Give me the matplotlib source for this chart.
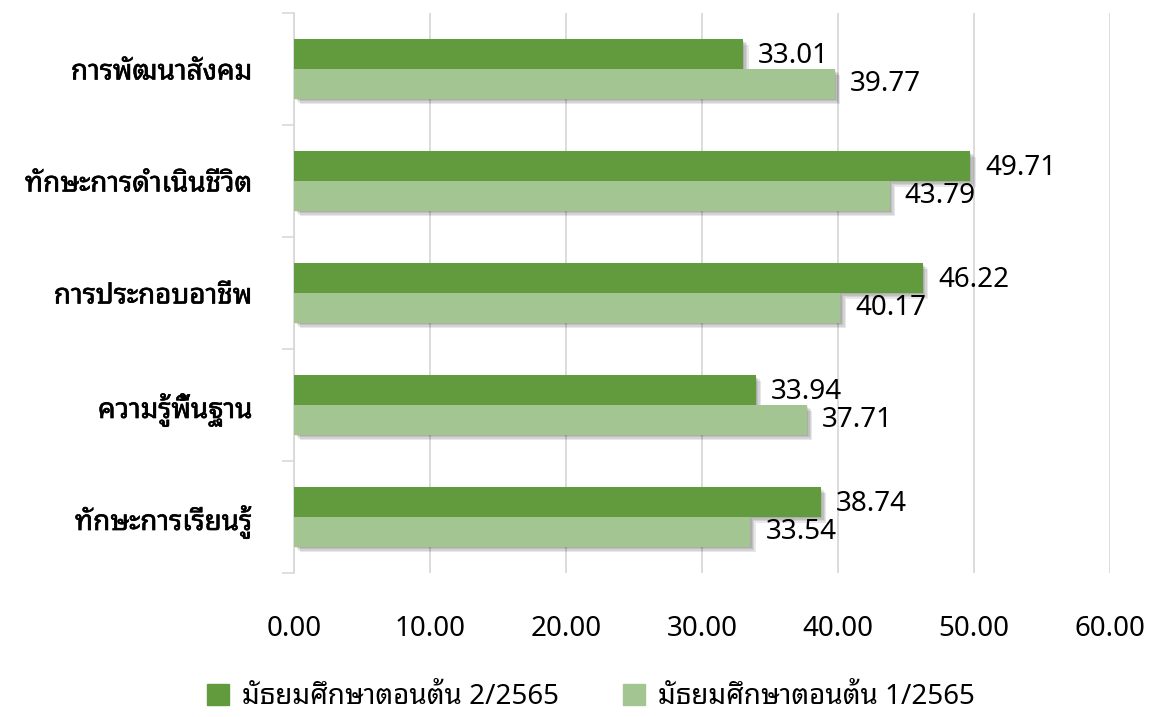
import numpy as np
import matplotlib
matplotlib.use('Agg')
import matplotlib.pyplot as pl
import matplotlib.patheffects as pe
from matplotlib.patches import Patch

pl.rcParams['font.family'] = ['Noto Sans Thai Looped', 'DejaVu Sans']

categories = ['การพัฒนาสังคม', 'ทักษะการดำเนินชีวิต', 'การประกอบอาชีพ',
              'ความรู้พื้นฐาน', 'ทักษะการเรียนรู้']
term2 = [33.01, 49.71, 46.22, 33.94, 38.74]
term1 = [39.77, 43.79, 40.17, 37.71, 33.54]
series_names = ['มัธยมศึกษาตอนต้น 2/2565', 'มัธยมศึกษาตอนต้น 1/2565']
xticks = [0, 10, 20, 30, 40, 50, 60]

c_dark = '#629b3e'
c_light = '#a3c592'
c_grid = '#d9d9d9'

fig = pl.figure(figsize=(11.54, 7.17), dpi=100)
ax = fig.add_axes([0.2548, 0.2008, 0.7071, 0.7811])

y = np.arange(len(categories))
h = 0.265
# soft drop shadow: a few stacked faint offsets
shadow = [pe.SimplePatchShadow(offset=(o, -o), shadow_rgbFace='k', alpha=0.09)
          for o in (1.0, 2.0, 3.0, 4.0)] + [pe.Normal()]

b1 = ax.barh(y - h / 2, term2, height=h, color=c_dark, zorder=3)
b2 = ax.barh(y + h / 2, term1, height=h, color=c_light, zorder=3)
for b in list(b1) + list(b2):
    b.set_path_effects(shadow)

for yi, v in zip(y - h / 2, term2):
    ax.annotate(f'{v:.2f}', (v, yi), xytext=(11, -1), textcoords='offset points',
                va='center', ha='left', fontsize=20, zorder=5)
for yi, v in zip(y + h / 2, term1):
    ax.annotate(f'{v:.2f}', (v, yi), xytext=(11, 0), textcoords='offset points',
                va='center', ha='left', fontsize=20, zorder=5)

ax.set_xlim(0, 60)
ax.set_ylim(len(categories) - 0.5, -0.5)
ax.set_xticks(xticks)
ax.set_xticklabels([f'{t:.2f}' for t in xticks], fontsize=20)
ax.set_yticks(y)
ax.set_yticklabels(categories, fontsize=20)
for t in ax.get_yticklabels():
    t.set_path_effects([pe.withStroke(linewidth=0.45, foreground='k')])
ax.set_yticks(np.arange(len(categories) + 1) - 0.5, minor=True)

ax.tick_params(axis='x', length=0, pad=30)
ax.tick_params(axis='y', which='major', length=0, pad=30)
ax.tick_params(axis='y', which='minor', length=9, width=1.2, color=c_grid, direction='out')

ax.grid(axis='x', color=c_grid, lw=1.3, zorder=0)
for s in ['top', 'right', 'bottom']:
    ax.spines[s].set_visible(False)
ax.spines['left'].set_color(c_grid)
ax.spines['left'].set_linewidth(1.3)

handles = [Patch(color=c_dark), Patch(color=c_light)]
fig.legend(handles, series_names, loc='center', bbox_to_anchor=(0.512, 0.028),
           ncol=2, frameon=False, fontsize=20, handlelength=0.8, handleheight=0.8,
           handletextpad=0.45, columnspacing=2.3)

fig.savefig('out.png', dpi=100)
